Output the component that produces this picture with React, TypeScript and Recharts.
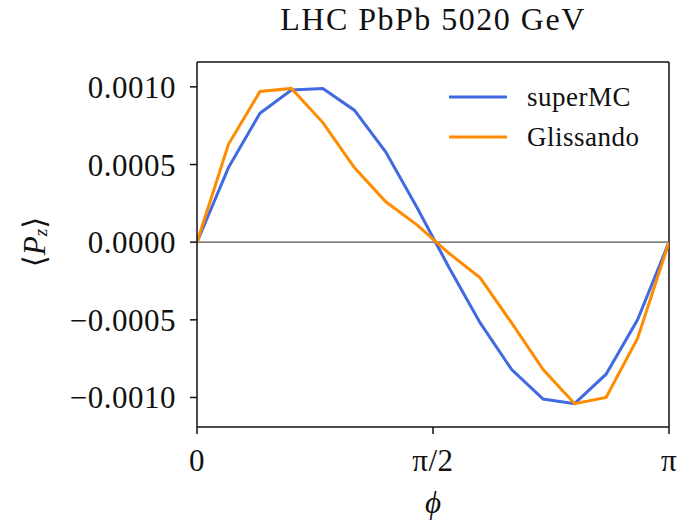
import React from "react";
import {
  LineChart,
  Line,
  XAxis,
  YAxis,
  ReferenceLine,
  Legend,
} from "recharts";

// phi grid: k * pi / 15
const phiSteps = [0, 1, 2, 3, 4, 5, 6, 7, 8, 9, 10, 11, 12, 13, 14, 15];
const superMC = [
  0, 0.00048, 0.00083, 0.00098, 0.00099, 0.00085, 0.00058, 0.00022, -0.00016,
  -0.00052, -0.00082, -0.00101, -0.00104, -0.00085, -0.0005, 0,
];
const glissando = [
  0, 0.00063, 0.00097, 0.00099, 0.00077, 0.00048, 0.00026, 0.00011, -0.00007,
  -0.00023, -0.00052, -0.00082, -0.00104, -0.001, -0.00062, 0,
];
const xTicks = [0, Math.PI / 2, Math.PI];
const xTickLabels = ["0", "π/2", "π"];
const yTicks = [-0.001, -0.0005, 0, 0.0005, 0.001];
const yDomain = [-0.00119, 0.00116];

const data = phiSteps.map((k, i) => ({
  phi: (k * Math.PI) / 15,
  superMC: superMC[i],
  glissando: glissando[i],
}));

const FONT = "'Liberation Serif', 'DejaVu Serif', serif";
const BLUE = "#4169e1";
const ORANGE = "#ff8c00";

const fmtY = (v: number) => {
  const s = Math.abs(v).toFixed(4);
  return v < 0 ? "\u2212" + s : s;
};
const fmtX = (v: number) => {
  const i = xTicks.findIndex((t) => Math.abs(t - v) < 1e-9);
  return i >= 0 ? xTickLabels[i] : "";
};

const LegendContent = () => (
  <div style={{ fontFamily: FONT, fontSize: 27, color: "#111" }}>
    {[
      { name: "superMC", color: BLUE },
      { name: "Glissando", color: ORANGE },
    ].map((e) => (
      <div
        key={e.name}
        style={{ display: "flex", alignItems: "center", height: 40 }}
      >
        <svg width={60} height={10} style={{ marginRight: 18 }}>
          <line x1={0} y1={5} x2={58} y2={5} stroke={e.color} strokeWidth={3} />
        </svg>
        <span style={{ letterSpacing: 0.5 }}>{e.name}</span>
      </div>
    ))}
  </div>
);

const YLabel = () => {
  const cx = 34;
  const cy = 242;
  return (
    <text
      x={cx}
      y={cy}
      transform={`rotate(-90, ${cx}, ${cy})`}
      textAnchor="middle"
      dominantBaseline="central"
      fontFamily={FONT}
      fontSize={31}
      fill="#111"
    >
      <tspan>⟨</tspan>
      <tspan fontStyle="italic">P</tspan>
      <tspan fontStyle="italic" fontSize={19} dy={6}>
        z
      </tspan>
      <tspan dy={-6}>⟩</tspan>
    </text>
  );
};

export default function App() {
  return (
    <div
      style={{
        position: "absolute",
        left: 0,
        top: 0,
        width: 679,
        height: 527,
        background: "#fff",
      }}
    >
      <div
        style={{
          position: "absolute",
          top: 1,
          left: 197,
          width: 472,
          textAlign: "center",
          fontFamily: FONT,
          fontSize: 32,
          letterSpacing: 1.5,
          color: "#111",
        }}
      >
        LHC PbPb 5020 GeV
      </div>
      <LineChart
        width={679}
        height={527}
        data={data}
        margin={{ top: 62, right: 10, bottom: 40, left: 0 }}
      >
        <XAxis
          dataKey="phi"
          type="number"
          domain={[0, Math.PI]}
          ticks={xTicks}
          tickFormatter={fmtX}
          allowDataOverflow
          height={60}
          tickSize={7}
          tickMargin={15}
          stroke="#111"
          strokeWidth={1.5}
          tick={{ fontFamily: FONT, fontSize: 31, fill: "#111", letterSpacing: 0.5 }}
          label={{
            value: "ϕ",
            position: "insideBottom",
            offset: -26,
            style: {
              fontFamily: FONT,
              fontSize: 31,
              fontStyle: "italic",
              fill: "#111",
            },
          }}
        />
        <YAxis
          type="number"
          domain={yDomain}
          ticks={yTicks}
          tickFormatter={fmtY}
          allowDataOverflow
          width={197}
          tickSize={7}
          tickMargin={14}
          stroke="#111"
          strokeWidth={1.5}
          tick={{ fontFamily: FONT, fontSize: 31, fill: "#111", letterSpacing: 0.5 }}
          label={<YLabel />}
        />
        <ReferenceLine y={0} stroke="#555" strokeWidth={1.3} />
        <ReferenceLine y={yDomain[1]} stroke="#111" strokeWidth={1.5} />
        <ReferenceLine x={Math.PI} stroke="#111" strokeWidth={1.5} />
        <Line
          type="linear"
          dataKey="superMC"
          name="superMC"
          stroke={BLUE}
          strokeWidth={3}
          dot={false}
          isAnimationActive={false}
        />
        <Line
          type="linear"
          dataKey="glissando"
          name="Glissando"
          stroke={ORANGE}
          strokeWidth={3}
          dot={false}
          isAnimationActive={false}
        />
        <Legend
          layout="vertical"
          align="center"
          verticalAlign="middle"
          content={<LegendContent />}
          wrapperStyle={{ position: "absolute", top: 77, left: 449, width: 220 }}
        />
      </LineChart>
    </div>
  );
}
